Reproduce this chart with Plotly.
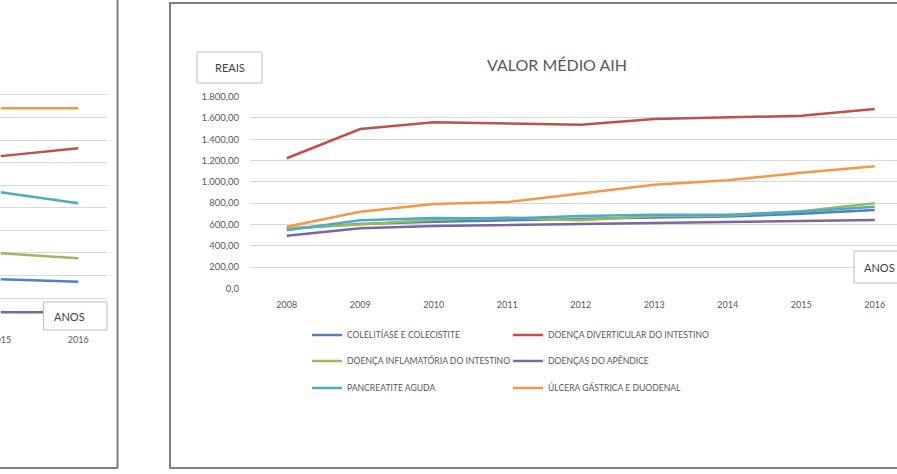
import plotly.graph_objects as go

W, H = 897, 474

# ---------------- data ----------------
years = [2008, 2009, 2010, 2011, 2012, 2013, 2014, 2015, 2016]
year_labels = [str(y) for y in years]

series_names = [
    "COLELITÍASE E COLECISTITE",
    "DOENÇA DIVERTICULAR DO INTESTINO",
    "DOENÇA INFLAMATÓRIA DO INTESTINO",
    "DOENÇAS DO APÊNDICE",
    "PANCREATITE AGUDA",
    "ÚLCERA GÁSTRICA E DUODENAL",
]
colelitiase = [560, 605, 625, 640, 650, 665, 675, 700, 735]
diverticular = [1222, 1496, 1561, 1550, 1536, 1590, 1605, 1621, 1684]
inflamatoria = [565, 600, 645, 665, 640, 680, 685, 725, 800]
apendice = [493, 565, 585, 595, 605, 610, 618, 632, 642]
pancreatite = [545, 640, 660, 655, 680, 690, 690, 720, 765]
ulcera = [578, 720, 792, 811, 890, 972, 1015, 1085, 1147]

y_ticks = [0, 200, 400, 600, 800, 1000, 1200, 1400, 1600, 1800]
y_tick_labels = ["0,0", "200,00", "400,00", "600,00", "800,00", "1.000,00",
                 "1.200,00", "1.400,00", "1.600,00", "1.800,00"]

# partial chart on the left (only its last two years are visible)
left_years = [2015, 2016]
left_year_labels = ["2015", "2016"]
left_colelitiase = [183, 172]
left_diverticular = [729, 764]
left_inflamatoria = [298, 276]
left_apendice = [37, 37]
left_pancreatite = [569, 520]
left_ulcera = [941, 941]
left_grid = [100, 200, 300, 400, 500, 600, 700, 800, 900, 1000]

colors = ["#4F81BD", "#C0504D", "#9BBB59", "#8064A2", "#4BACC6", "#F79646"]

main_series = [colelitiase, diverticular, inflamatoria, apendice, pancreatite, ulcera]
left_series = [left_colelitiase, left_diverticular, left_inflamatoria,
               left_apendice, left_pancreatite, left_ulcera]

GRAY = "#595959"
GRID = "#D9D9D9"
FONT = "Lato"


def px(x):
    return x / W


def py(y):
    return 1 - y / H


fig = go.Figure()

legend_ids = ["legend" if i == 0 else f"legend{i + 1}" for i in range(6)]

for name, vals, col, lg in zip(series_names, main_series, colors, legend_ids):
    fig.add_trace(go.Scatter(
        x=years, y=vals, name=name, mode="lines",
        line=dict(color=col, width=2.5),
        xaxis="x", yaxis="y", legend=lg, showlegend=True,
    ))

for name, vals, col in zip(series_names, left_series, colors):
    fig.add_trace(go.Scatter(
        x=left_years, y=vals, name=name, mode="lines",
        line=dict(color=col, width=2.5),
        xaxis="x2", yaxis="y2", showlegend=False,
    ))

# main chart axes
x0_px, step_px = 250, 73.5
fig.update_layout(
    xaxis=dict(
        domain=[px(250), 1],
        range=[2007.5, 2007.5 + (W - x0_px) / step_px],
        tickvals=years, ticktext=year_labels,
        showgrid=False, zeroline=False, showline=False,
        tickfont=dict(family=FONT, size=9, color=GRAY),
        ticks="", ticklabelstandoff=10, automargin=False,
    ),
    yaxis=dict(
        domain=[py(288.3), py(96.7)],
        range=[0, 1800],
        tickvals=y_ticks, ticktext=y_tick_labels,
        showgrid=True, gridcolor=GRID, gridwidth=1,
        zeroline=False, showline=False,
        tickfont=dict(family=FONT, size=9.5, color=GRAY),
        ticks="", ticklabelstandoff=10, automargin=False,
    ),
    xaxis2=dict(
        domain=[0, px(107)],
        range=[2014.99, 2015 + 107 / 78.0],
        tickvals=left_years, ticktext=left_year_labels,
        showgrid=False, zeroline=False, showline=False,
        tickfont=dict(family=FONT, size=9, color=GRAY),
        ticks="", ticklabelstandoff=12, anchor="y2",
        ticklabeloverflow="allow", automargin=False,
    ),
    yaxis2=dict(
        domain=[py(320.6), py(83.7)],
        range=[0, 1050],
        tickvals=left_grid, showticklabels=False,
        showgrid=True, gridcolor=GRID, gridwidth=1,
        zeroline=False, showline=False, anchor="x2", automargin=False,
    ),
)

leg_common = dict(
    orientation="h", xanchor="left", yanchor="top",
    font=dict(family=FONT, size=8.6, color=GRAY),
    bgcolor="rgba(0,0,0,0)", borderwidth=0, itemwidth=30,
)
col_x = [307, 508]
row_top = [320.5, 346.5, 373.5]
legend_layout = {}
for i, lg in enumerate(legend_ids):
    legend_layout[lg] = dict(x=px(col_x[i % 2]), y=py(row_top[i // 2]), **leg_common)
fig.update_layout(**legend_layout)

shapes = [
    # right chart border
    dict(type="rect", xref="paper", yref="paper",
         x0=px(170), x1=px(910), y0=py(468), y1=py(3),
         line=dict(color="#7F7F7F", width=2), layer="below"),
    # left chart border (right + bottom edges)
    dict(type="line", xref="paper", yref="paper",
         x0=px(117.5), x1=px(117.5), y0=py(-5), y1=py(468),
         line=dict(color="#7F7F7F", width=2)),
    dict(type="line", xref="paper", yref="paper",
         x0=px(-5), x1=px(117.5), y0=py(468), y1=py(468),
         line=dict(color="#7F7F7F", width=2)),
    # REAIS box
    dict(type="rect", xref="paper", yref="paper",
         x0=px(197), x1=px(262), y0=py(83), y1=py(52),
         line=dict(color="#BFBFBF", width=1), fillcolor="white"),
    # ANOS box (main chart)
    dict(type="rect", xref="paper", yref="paper",
         x0=px(854), x1=px(915), y0=py(283), y1=py(251),
         line=dict(color="#BFBFBF", width=1), fillcolor="white"),
    # ANOS box (left chart)
    dict(type="rect", xref="paper", yref="paper",
         x0=px(43.5), x1=px(107), y0=py(330), y1=py(302),
         line=dict(color="#BFBFBF", width=1), fillcolor="white"),
]

annotations = [
    dict(text="REAIS", xref="paper", yref="paper", x=px(229.5), y=py(67.5),
         xanchor="center", yanchor="middle", showarrow=False,
         font=dict(family=FONT, size=11, color="#404040")),
    dict(text="ANOS", xref="paper", yref="paper", x=px(862), y=py(267),
         xanchor="left", yanchor="middle", showarrow=False,
         font=dict(family=FONT, size=11, color="#404040")),
    dict(text="ANOS", xref="paper", yref="paper", x=px(52), y=py(316),
         xanchor="left", yanchor="middle", showarrow=False,
         font=dict(family=FONT, size=11, color="#404040")),
]

fig.update_layout(
    width=W, height=H, autosize=False,
    margin=dict(l=0, r=0, t=0, b=0, autoexpand=False),
    paper_bgcolor="white", plot_bgcolor="white",
    title=dict(text="VALOR MÉDIO AIH", x=px(557), y=py(65),
               xanchor="center", yanchor="middle",
               font=dict(family=FONT, size=16, color=GRAY)),
    shapes=shapes, annotations=annotations,
    showlegend=True,
)

fig.write_html("out.html")
